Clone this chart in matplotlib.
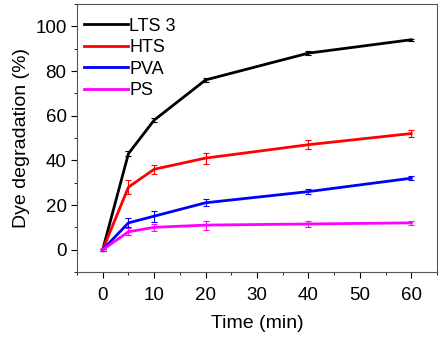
import matplotlib.pyplot as plt
from matplotlib.lines import Line2D
import numpy as np

plt.rcParams["font.family"] = ["Liberation Sans", "DejaVu Sans"]

time = [0, 5, 10, 20, 40, 60]
lts3 = [0, 43, 58, 76, 88, 94]
lts3_err = [0.5, 1, 1, 1, 1, 0.5]
hts = [0, 28, 36, 41, 47, 52]
hts_err = [0.5, 3, 2, 2.5, 2, 1.5]
pva = [0, 12, 15, 21, 26, 32]
pva_err = [0.5, 2, 2.5, 1.5, 1, 1]
ps = [0, 8, 10, 11, 11.5, 12]
ps_err = [0.5, 1.5, 1.5, 2, 1.5, 1]

series = [("LTS 3", lts3, lts3_err, "black"),
          ("HTS", hts, hts_err, "red"),
          ("PVA", pva, pva_err, "blue"),
          ("PS", ps, ps_err, "magenta")]

fig = plt.figure(figsize=(4.48, 3.37), dpi=100)
ax = fig.add_axes([77 / 448, 65 / 337, 360 / 448, 268 / 337])

handles = []
for name, y, err, color in series:
    ax.errorbar(time, y, yerr=err, color=color, lw=2, capsize=2,
                elinewidth=0.8, capthick=0.8)
    handles.append(Line2D([], [], color=color, lw=2, label=name))

ax.set_xlim(-5, 65)
ax.set_ylim(-10, 110)
ax.set_xticks(np.arange(0, 61, 10))
ax.set_xticks(np.arange(-5, 66, 10), minor=True)
ax.set_yticks(np.arange(0, 101, 20))
ax.set_yticks(np.arange(-10, 111, 20), minor=True)
ax.tick_params(labelsize=13.5, direction="out", length=4)
ax.tick_params(axis="x", pad=7)
ax.tick_params(which="minor", length=2.5)
ax.set_xlabel("Time (min)", fontsize=14, labelpad=8)
ax.set_ylabel("Dye degradation (%)", fontsize=14, labelpad=4)
for s in ax.spines.values():
    s.set_color("#555555")

ax.legend(handles=handles, loc="upper left", frameon=False, fontsize=13,
          handlelength=2.4, handletextpad=0.1, labelspacing=0.25,
          borderaxespad=0.2, bbox_to_anchor=(-0.01, 0.99))

fig.savefig("out.png", dpi=100)
